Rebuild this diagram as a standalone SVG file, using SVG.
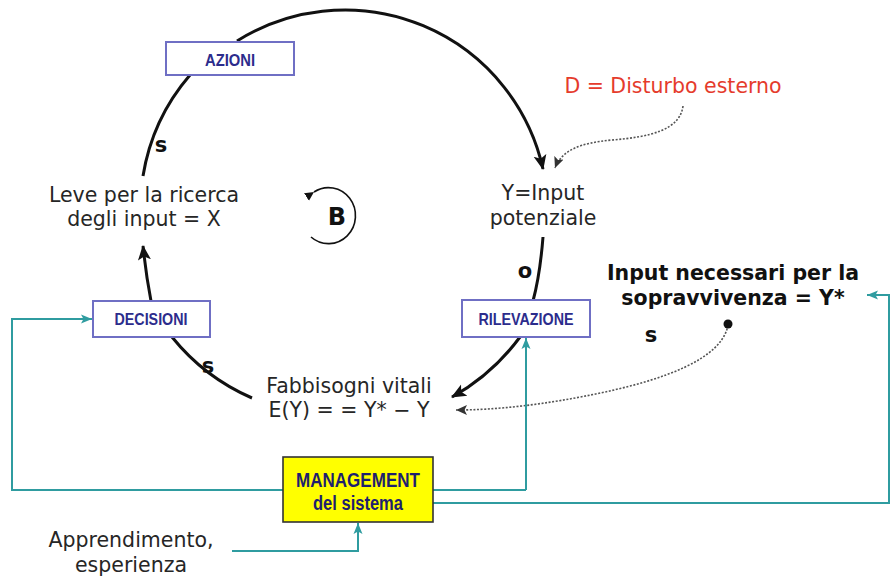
<svg xmlns="http://www.w3.org/2000/svg" width="890" height="579" viewBox="0 0 890 579">
  <style>
    .lbl { font-family: "DejaVu Sans", Verdana, sans-serif; font-size: 20.5px; fill: #262626; text-anchor: middle; }
    .bold { font-family: "DejaVu Sans", Verdana, sans-serif; font-weight: bold; font-size: 20.5px; fill: #111; text-anchor: middle; }
    .pol { font-family: "DejaVu Sans", Verdana, sans-serif; font-weight: bold; font-size: 21px; fill: #111; text-anchor: middle; }
    .box { fill: #ffffff; stroke: #6f6fc4; stroke-width: 2; }
    .boxtxt { font-family: "Liberation Sans", Arial, sans-serif; font-weight: bold; font-size: 16.5px; fill: #2c2c8c; text-anchor: middle; }
    .mgmt { font-family: "Liberation Sans", Arial, sans-serif; font-weight: bold; font-size: 20px; fill: #1f1f6e; text-anchor: middle; }
    .loop { fill: none; stroke: #111; stroke-width: 3; }
    .dotted { fill: none; stroke: #555; stroke-width: 1.6; stroke-dasharray: 2 1.6; }
    .teal { fill: none; stroke: #2f9ca0; stroke-width: 2; }
  </style>
  <defs>
    <marker id="arrBlack" markerUnits="userSpaceOnUse" markerWidth="16" markerHeight="16" viewBox="0 0 16 16" refX="14" refY="8" orient="auto">
      <path d="M0,1.5 L15,8 L0,14.5 L3.5,8 Z" fill="#111"/>
    </marker>
    <marker id="arrGrey" markerUnits="userSpaceOnUse" markerWidth="12" markerHeight="12" viewBox="0 0 12 12" refX="11" refY="6" orient="auto">
      <path d="M0,1 L11,6 L0,11 L2.5,6 Z" fill="#333"/>
    </marker>
    <marker id="arrTeal" markerUnits="userSpaceOnUse" markerWidth="12" markerHeight="12" viewBox="0 0 12 12" refX="11" refY="6" orient="auto">
      <path d="M0,1.5 L11,6 L0,10.5 L2.5,6 Z" fill="#2f9ca0"/>
    </marker>
    <marker id="arrSmall" markerUnits="userSpaceOnUse" markerWidth="10" markerHeight="10" viewBox="0 0 10 10" refX="9" refY="5" orient="auto">
      <path d="M0,0.5 L9,5 L0,9.5 Z" fill="#111"/>
    </marker>
  </defs>

  <rect width="890" height="579" fill="#ffffff"/>

  <!-- connectors -->
  <g id="connectors">
    <!-- balancing loop -->
    <path class="loop" d="M237,41 A203,203 0 0,1 543,169" marker-end="url(#arrBlack)"/>
    <path class="loop" d="M190,75 A205,205 0 0,0 143,176"/>
    <path class="loop" d="M151,301 Q146,275 143,246" marker-end="url(#arrBlack)"/>
    <path class="loop" d="M172,337 A210,210 0 0,0 252,398"/>
    <path class="loop" d="M543,237 Q540,275 533,301"/>
    <path class="loop" d="M520,337 A215,215 0 0,1 452,397" marker-end="url(#arrBlack)"/>

    <!-- dotted influences -->
    <path class="dotted" d="M683,106 C680,130 650,137 612,140 C580,143 562,150 555,168" marker-end="url(#arrGrey)"/>
    <path class="dotted" d="M728,325 C722,360 660,380 605,392 C545,405 495,410 456,410" marker-end="url(#arrGrey)"/>
    <circle cx="728" cy="324" r="4.5" fill="#111"/>

    <!-- management feedback lines -->
    <path class="teal" d="M526,490 H12 V319 H92" marker-end="url(#arrTeal)"/>
    <path class="teal" d="M526,490 V338" marker-end="url(#arrTeal)"/>
    <path class="teal" d="M433,503 H889 V295 H867" marker-end="url(#arrTeal)"/>
    <path class="teal" d="M232,551 H358 V523" marker-end="url(#arrTeal)"/>
  </g>

  <!-- loop polarity marker -->
  <g id="loop-B">
    <path d="M314,192 A27,28 0 1,1 311,237" fill="none" stroke="#111" stroke-width="1.6" marker-start="url(#arrSmall)"/>
    <text class="pol" x="337" y="225" style="font-size:24px">B</text>
  </g>

  <g id="azioni">
    <rect class="box" x="166" y="42" width="128" height="33"/>
    <text class="boxtxt" x="230" y="66" textLength="50" lengthAdjust="spacingAndGlyphs">AZIONI</text>
  </g>

  <g id="decisioni">
    <rect class="box" x="93" y="301" width="117" height="36"/>
    <text class="boxtxt" x="151" y="325" textLength="73" lengthAdjust="spacingAndGlyphs">DECISIONI</text>
  </g>

  <g id="rilevazione">
    <rect class="box" x="462" y="300" width="128" height="37"/>
    <text class="boxtxt" x="526" y="325" textLength="95" lengthAdjust="spacingAndGlyphs">RILEVAZIONE</text>
  </g>

  <g id="management">
    <rect x="283" y="457" width="150" height="65" fill="#ffff00" stroke="#333" stroke-width="1.6"/>
    <text class="mgmt" x="358" y="487" textLength="124" lengthAdjust="spacingAndGlyphs">MANAGEMENT</text>
    <text class="mgmt" x="358" y="510" textLength="90" lengthAdjust="spacingAndGlyphs">del sistema</text>
  </g>

  <g id="leve">
    <text class="lbl" x="144" y="202">Leve per la ricerca</text>
    <text class="lbl" x="144" y="226">degli input = X</text>
  </g>

  <g id="input-potenziale">
    <text class="lbl" x="543" y="200">Y=Input</text>
    <text class="lbl" x="543" y="225">potenziale</text>
  </g>

  <g id="fabbisogni">
    <text class="lbl" x="349" y="393">Fabbisogni vitali</text>
    <text class="lbl" x="349" y="417">E(Y) = = Y* − Y</text>
  </g>

  <g id="disturbo">
    <text class="lbl" x="673" y="93" style="fill:#e53b2c">D = Disturbo esterno</text>
  </g>

  <g id="input-necessari">
    <text class="bold" x="733" y="280">Input necessari per la</text>
    <text class="bold" x="733" y="305">sopravvivenza = Y*</text>
  </g>

  <g id="apprendimento">
    <text class="lbl" x="131" y="547">Apprendimento,</text>
    <text class="lbl" x="131" y="572">esperienza</text>
  </g>

  <!-- link polarities -->
  <g id="polarities">
    <text class="pol" x="161" y="152">s</text>
    <text class="pol" x="208" y="373">s</text>
    <text class="pol" x="525" y="278">o</text>
    <text class="pol" x="651" y="342">s</text>
  </g>
</svg>
